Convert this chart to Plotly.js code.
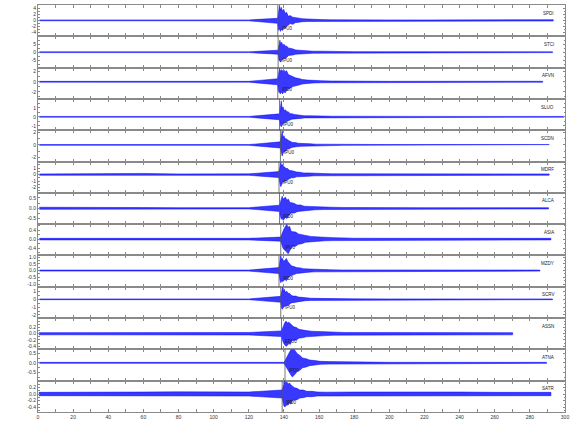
<!DOCTYPE html>
<html>
<head>
<meta charset="utf-8">
<script src="https://cdn.plot.ly/plotly-3.0.1.min.js"></script>
<style>html,body{margin:0;padding:0;background:#fff}#chart{width:580px;height:440px}</style>
</head>
<body>
<div id="chart"></div>
<script>
// Stations, top to bottom
const stations = ["SPDI","STCI","AFVN","SLUO","SCDN","MDRF","ALCA","ASIA","MZDY","SCRV","ASSN","ATNA","SATR"];
// Pick (onset) times in seconds
const pickTimes = [136.5,136.7,136.5,137.5,138.0,137.2,137.5,138.2,137.2,138.2,138.6,140.6,139.0];
const pickLabels = ["IPU0","IPU0","IPD0","IPU0","IPU0","IPU0","IPD0","IPU0","IPD0","IPU0","EPU0","IPD0","IPD0"];
// Record start / end times (s)
const startTimes = [0.8,0.8,0.8,0.8,0.8,0.8,0.8,0.8,0.8,0.8,0.5,0.8,0.5];
const endTimes = [293.3,292.9,287.3,299.5,291.0,291.0,290.6,292.0,285.7,292.9,270.2,289.5,292.0];
// Y ranges of each panel (counts) and labelled ticks
const yRanges = [[-5.3,5.1],[-9.7,10],[-3.4,2.8],[-1.5,2.0],[-2.6,2.3],[-2.8,2.0],[-0.76,0.74],[-0.72,0.66],[-1.2,1.12],[-2.4,1.6],[-0.5,0.5],[-0.94,0.71],[-0.54,0.4]];
const yTickVals = [
  [-4,-2,0,2,4],[-5,0,5],[-2,0,2],[-1,0,1],[-2,0,2],[-2,-1,0,1],
  [-0.5,0,0.5],[-0.4,0,0.4],[-1,-0.5,0,0.5,1],[-2,-1,0,1],
  [-0.4,-0.2,0,0.2],[-0.5,0,0.5],[-0.4,-0.2,0,0.2]
];
const yTickText = [
  ["-4","-2","0","2","4"],["-5","0","5"],["-2","0","2"],["-1","0","1"],["-2","0","2"],["-2","-1","0","1"],
  ["-0.5","0.0","0.5"],["-0.4","0.0","0.4"],["-1.0","-0.5","0.0","0.5","1.0"],["-2","-1","0","1"],
  ["-0.4","-0.2","0.0","0.2"],["-0.5","0.0","0.5"],["-0.4","-0.2","0.0","0.2"]
];
const yMinor = [1,2.5,1,0.5,1,0.5,0.25,0.2,0.25,0.5,0.1,0.25,0.1];

// Background noise amplitude, read at t = 0,20,...,280
const noiseT = [0,20,40,60,80,100,120,140,160,180,200,220,240,260,280];
const noiseAmp = [
  [.14,.14,.15,.2,.17,.14,.15,.14,.15,.14,.14,.14,.15,.18,.22],
  [.25,.25,.25,.28,.25,.25,.25,.25,.4,.35,.3,.28,.25,.25,.25],
  [.08,.08,.09,.1,.09,.09,.08,.08,.1,.09,.08,.09,.1,.1,.09],
  [.045,.045,.05,.05,.045,.045,.045,.045,.06,.05,.05,.045,.045,.045,.045],
  [.055,.07,.065,.055,.055,.055,.055,.055,.07,.06,.055,.055,.055,.055,.055],
  [.1,.13,.15,.18,.1,.1,.11,.11,.13,.18,.11,.1,.1,.1,.1],
  [.05,.035,.03,.035,.03,.03,.03,.03,.04,.035,.03,.03,.03,.03,.03],
  [.035,.035,.04,.045,.035,.035,.035,.035,.045,.04,.035,.035,.04,.05,.035],
  [.04,.04,.04,.05,.04,.04,.04,.04,.05,.045,.04,.04,.04,.04,.04],
  [.05,.05,.05,.055,.05,.05,.05,.05,.065,.055,.05,.05,.05,.05,.05],
  [.035,.035,.035,.04,.035,.035,.04,.04,.04,.04,.035,.035,.035,.035,.035],
  [.027,.027,.027,.03,.027,.027,.027,.027,.03,.03,.027,.027,.027,.027,.027],
  [.05,.06,.05,.06,.065,.06,.06,.06,.065,.06,.06,.065,.06,.05,.05]
];

// Event envelope: seconds after the pick
const burstDt = [0,0.5,1,1.5,2,2.7,3.4,4.2,5,6,7,8.5,10,12,14,17,20,25,30,36];
const burstUp = [
  [.67,2.67,5,3.33,4.33,3,3.67,2.33,2.67,1.33,1.6,1.07,.87,.65,.55,.46,.33,.25,.2,.16],
  [1.25,4.4,7.5,5,6.25,4.4,5,3.75,3.75,2.5,2.5,2,1.43,1.23,1.05,.88,.62,.62,.47,.4],
  [.6,1.8,2.6,2,2.4,2.2,2.4,2,2.2,1.44,1.28,1.12,.78,.65,.44,.33,.25,.2,.15,.12],
  [.33,1.11,1.78,.89,1.11,.67,.78,.56,.56,.35,.35,.26,.21,.18,.12,.12,.085,.085,.065,.055],
  [.48,1.43,2.22,1.11,1.43,.95,.95,.79,.63,.5,.38,.38,.26,.26,.18,.18,.12,.1,.08,.07],
  [.46,1.23,1.85,1.38,1.54,1.23,1.08,.92,.92,.62,.62,.5,.4,.35,.25,.25,.19,.16,.12,.12],
  [.15,.34,.49,.58,.44,.49,.53,.39,.44,.27,.27,.23,.16,.16,.1,.09,.075,.06,.05,.04],
  [.09,.22,.3,.39,.48,.57,.65,.52,.57,.34,.34,.31,.23,.2,.14,.12,.1,.075,.065,.055],
  [.22,.75,1.12,.82,.9,.67,.75,.9,.67,.48,.36,.3,.22,.2,.14,.12,.095,.075,.055,.045],
  [.38,1.02,1.53,1.02,1.27,.89,1.02,.76,.76,.51,.41,.41,.29,.25,.18,.14,.12,.1,.075,.065],
  [.09,.18,.25,.31,.37,.4,.34,.37,.31,.27,.22,.2,.14,.13,.1,.08,.07,.06,.045,.04],
  [.11,.21,.27,.37,.48,.59,.69,.85,.74,.58,.48,.39,.26,.22,.15,.12,.08,.065,.055,.04],
  [.12,.24,.33,.39,.33,.36,.3,.33,.27,.22,.19,.17,.12,.12,.08,.08,.06,.055,.05,.05]
];
const burstDown = [
  [1,3.33,2.67,3.67,3,3.33,2.33,2.67,2,1.6,1.07,1.33,.76,.65,.46,.37,.33,.25,.2,.16],
  [1.25,5,5.6,6.25,5,4.4,3.75,3.75,3.1,2,2,1.76,1.23,1.23,.88,.88,.62,.62,.47,.4],
  [.6,2,2.2,2.4,2,2.4,2,2.2,1.8,1.44,1.28,.96,.78,.65,.44,.33,.25,.2,.15,.12],
  [.33,1,1.11,.89,.78,.67,.56,.56,.44,.35,.26,.26,.18,.18,.12,.12,.085,.085,.065,.055],
  [.48,1.27,1.75,1.27,1.11,.95,.79,.63,.63,.45,.38,.38,.26,.21,.18,.13,.12,.1,.08,.07],
  [.46,1.38,1.85,1.54,1.23,1.23,1.08,.92,.77,.62,.5,.5,.35,.35,.25,.25,.19,.16,.12,.12],
  [.15,.39,.53,.44,.58,.49,.44,.49,.39,.27,.23,.23,.16,.14,.1,.09,.075,.06,.05,.04],
  [.09,.22,.35,.43,.43,.52,.57,.65,.52,.38,.31,.31,.23,.2,.14,.12,.1,.075,.065,.055],
  [.22,.67,.9,.75,.82,.75,.67,.75,.6,.42,.36,.3,.22,.2,.14,.12,.095,.075,.055,.045],
  [.38,1.15,1.27,1.02,1.02,.89,.76,.76,.64,.46,.41,.36,.25,.25,.18,.14,.12,.1,.075,.065],
  [.09,.18,.28,.34,.37,.4,.37,.31,.34,.22,.22,.2,.14,.13,.1,.08,.07,.06,.045,.04],
  [.11,.21,.32,.37,.48,.53,.64,.74,.69,.58,.43,.39,.26,.22,.15,.12,.08,.065,.055,.04],
  [.12,.27,.36,.39,.36,.33,.33,.27,.3,.19,.19,.17,.12,.11,.08,.08,.06,.055,.05,.05]
];

const xTickVals = [0,20,40,60,80,100,120,140,160,180,200,220,240,260,280,300];

const N = stations.length;
const traces = [];
const layout = {
  width: 580, height: 440,
  margin: {l: 38, r: 15, t: 5, b: 28},
  paper_bgcolor: '#fff', plot_bgcolor: '#fff',
  showlegend: false,
  font: {family: 'Liberation Sans, Arial, sans-serif', size: 5, color: '#333'},
  shapes: [], annotations: []
};

for (let i = 0; i < N; i++) {
  const sfx = i === 0 ? '' : String(i + 1);
  const t0 = pickTimes[i], tEnd = t0 + burstDt[burstDt.length - 1];
  const ux = [], uy = [], dy = [];
  ux.push(startTimes[i]); uy.push(noiseAmp[i][0]); dy.push(noiseAmp[i][0]);
  for (let k = 0; k < noiseT.length; k++) {
    if (noiseT[k] > startTimes[i] && noiseT[k] < t0) { ux.push(noiseT[k]); uy.push(noiseAmp[i][k]); dy.push(noiseAmp[i][k]); }
  }
  for (let k = 0; k < burstDt.length; k++) { ux.push(t0 + burstDt[k]); uy.push(burstUp[i][k]); dy.push(burstDown[i][k]); }
  let last = noiseAmp[i][0];
  for (let k = 0; k < noiseT.length; k++) {
    if (noiseT[k] > tEnd && noiseT[k] < endTimes[i]) { ux.push(noiseT[k]); uy.push(noiseAmp[i][k]); dy.push(noiseAmp[i][k]); last = noiseAmp[i][k]; }
  }
  ux.push(endTimes[i]); uy.push(last); dy.push(last);
  const xs = ux.concat(ux.slice().reverse());
  const ys = uy.concat(dy.slice().reverse().map(v => -v));
  traces.push({
    type: 'scatter', mode: 'lines', x: xs, y: ys,
    xaxis: 'x' + sfx, yaxis: 'y' + sfx,
    fill: 'toself', fillcolor: 'rgba(0,0,255,0.78)',
    line: {color: 'rgb(0,0,255)', width: 0.5},
    hoverinfo: 'skip'
  });
  const top = 1 - i / N, bot = 1 - (i + 1) / N;
  const isBottom = i === N - 1;
  const xa = {
    anchor: 'y' + sfx, range: [0, 300],
    showline: true, linecolor: '#8a8a8a', linewidth: 1, mirror: 'allticks',
    ticks: 'inside', ticklen: 3, tickcolor: '#8a8a8a', tickvals: xTickVals,
    minor: {dtick: 10, ticks: 'inside', ticklen: 3, tickcolor: '#8a8a8a'},
    showticklabels: isBottom, showgrid: false, zeroline: false,
    tickfont: {size: 5, color: '#333'}
  };
  if (i > 0) xa.matches = 'x';
  layout['xaxis' + sfx] = xa;
  layout['yaxis' + sfx] = {
    anchor: 'x' + sfx, domain: [bot, top], range: yRanges[i],
    tickvals: yTickVals[i], ticktext: yTickText[i],
    showline: true, linecolor: '#8a8a8a', linewidth: 1, mirror: 'allticks',
    ticks: 'inside', ticklen: 2, tickcolor: '#8a8a8a',
    minor: {dtick: yMinor[i], ticks: 'inside', ticklen: 1.5, tickcolor: '#8a8a8a'},
    showgrid: false, zeroline: false, tickfont: {size: 5, color: '#333'}
  };
  layout.shapes.push({
    type: 'line', xref: 'x' + sfx, yref: 'y' + sfx + ' domain',
    x0: t0, x1: t0, y0: 0, y1: 1, line: {color: '#555', width: 0.8}
  });
  layout.annotations.push({
    xref: 'x' + sfx, yref: 'y' + sfx, x: t0 + 1, y: 0, yshift: -8,
    text: pickLabels[i], showarrow: false, xanchor: 'left', yanchor: 'middle',
    font: {size: 4.5, color: '#222'}
  });
  layout.annotations.push({
    xref: 'x' + sfx, yref: 'y' + sfx + ' domain', x: 295, y: 0.74,
    text: stations[i], showarrow: false, xanchor: 'right', yanchor: 'middle',
    font: {size: 4.5, color: '#222'}
  });
}

Plotly.newPlot('chart', traces, layout, {staticPlot: true, displayModeBar: false});
</script>
</body>
</html>
